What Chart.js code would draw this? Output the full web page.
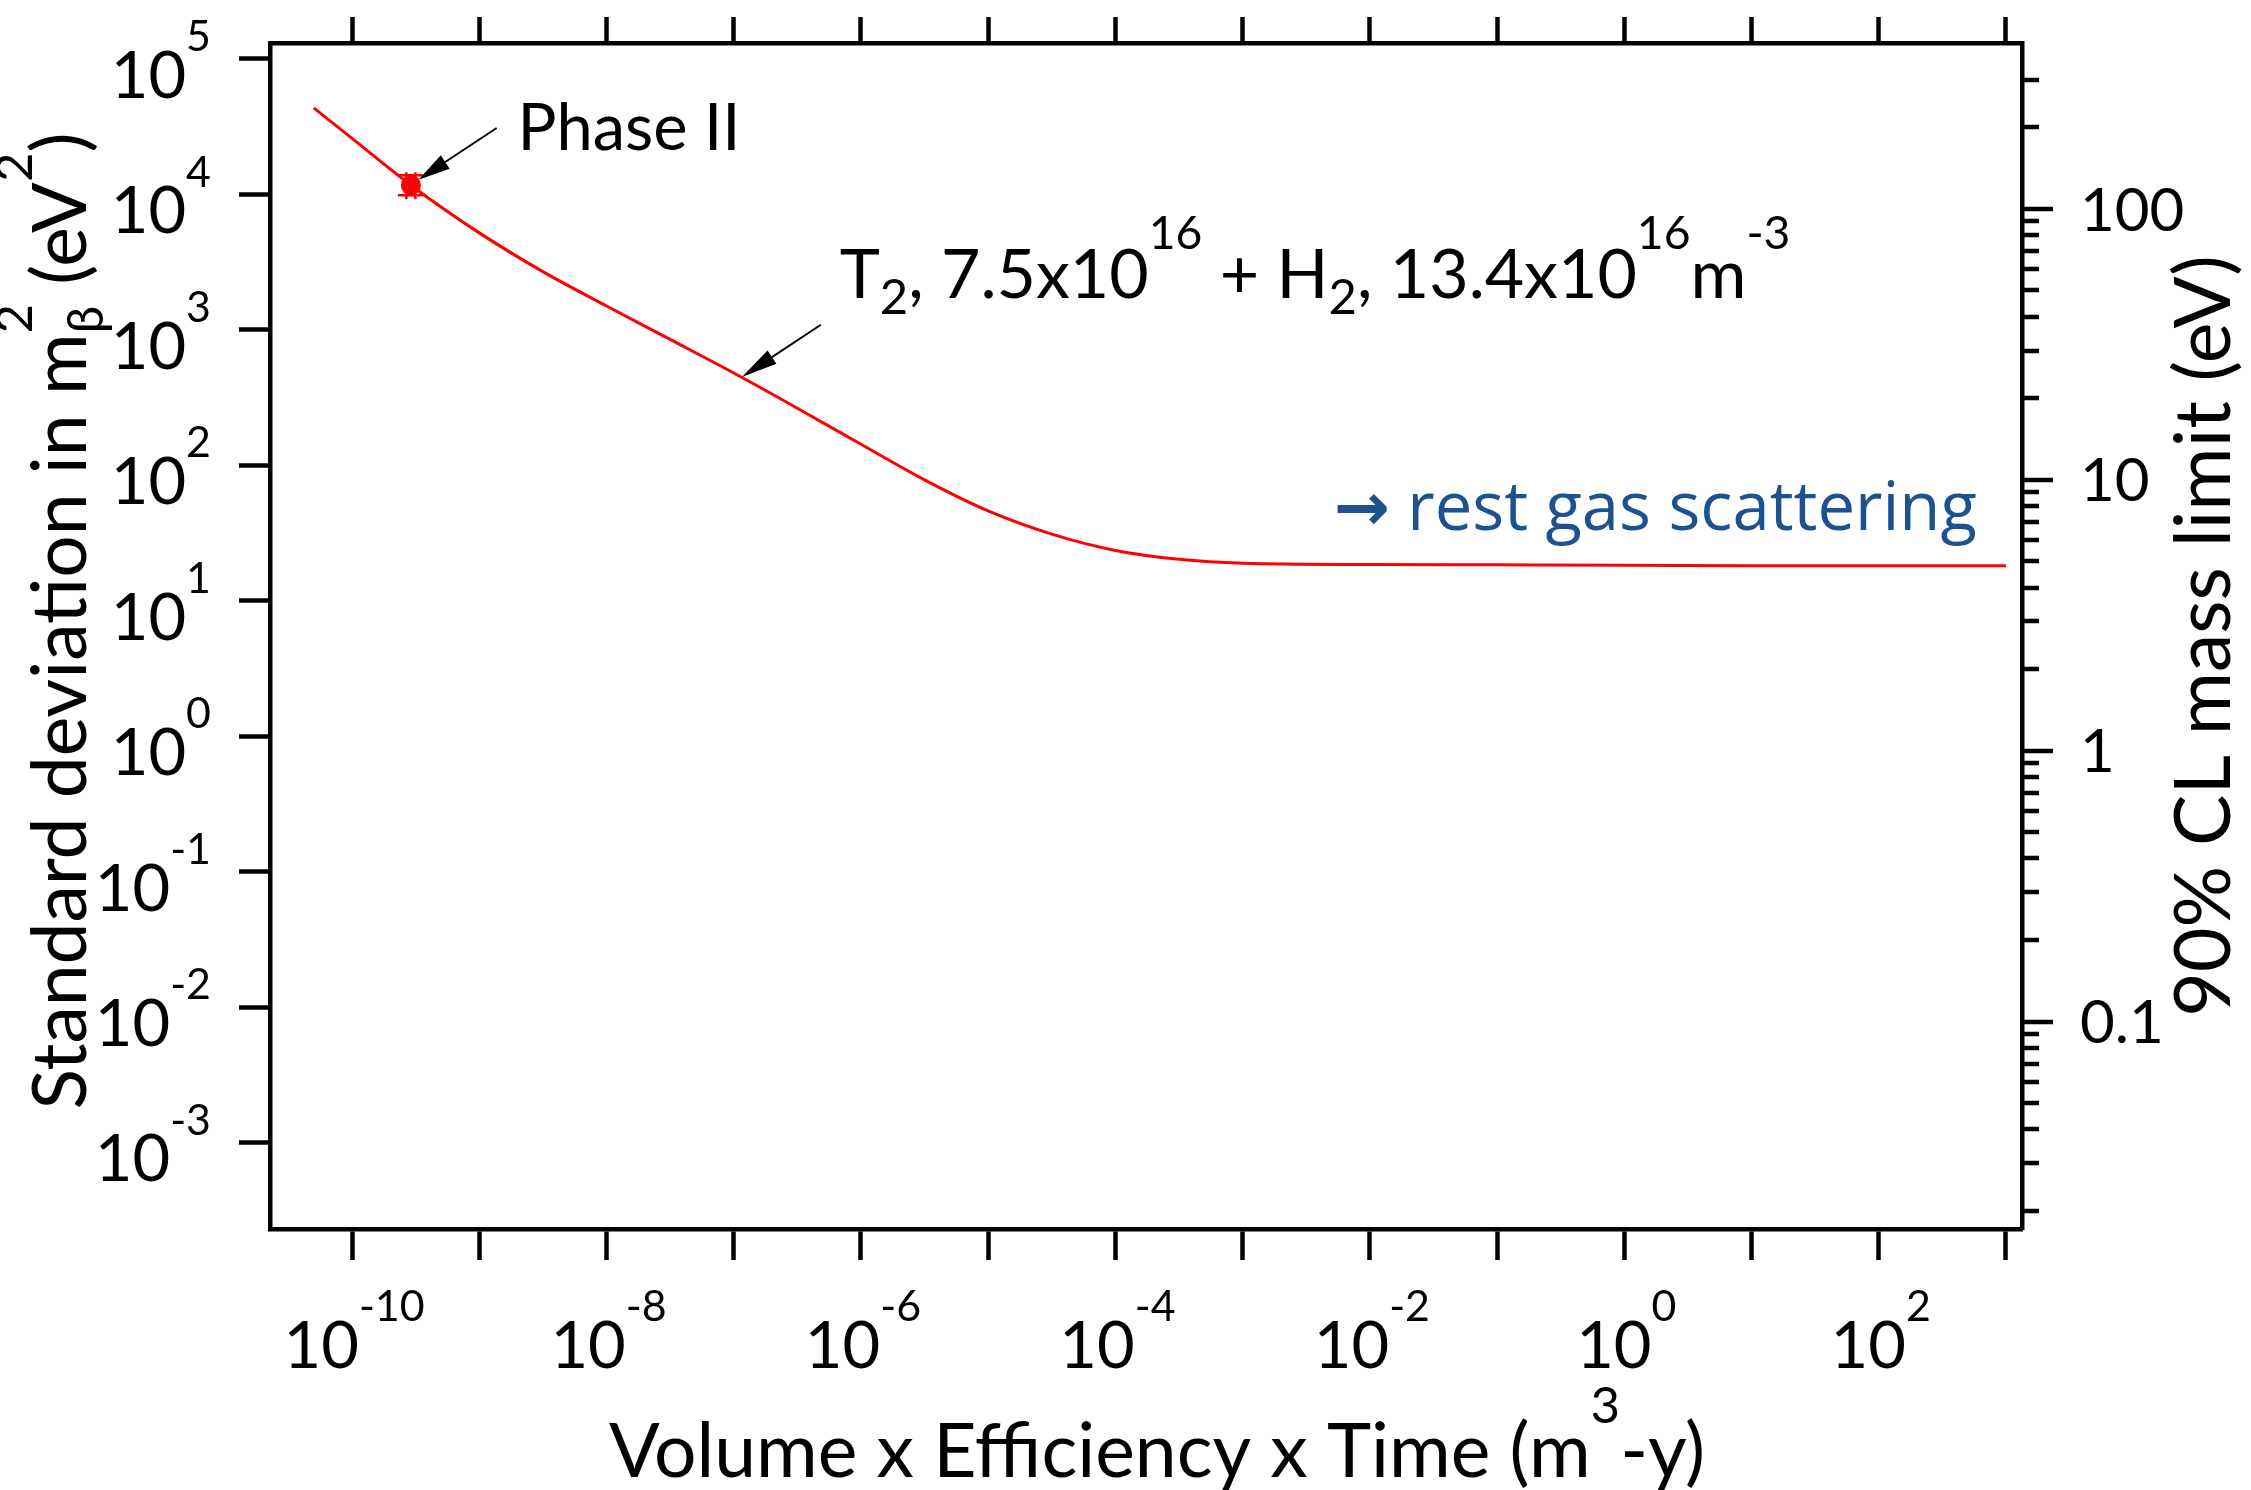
<!DOCTYPE html>
<html><head><meta charset="utf-8">
<script src="https://cdn.jsdelivr.net/npm/chart.js@4/dist/chart.umd.min.js"></script>
<style>html,body{margin:0;padding:0;background:#fff;}canvas{display:block;}</style>
</head><body>
<canvas id="c" width="2251" height="1490"></canvas>
<script>
// ---------------- data ----------------
const volumeEffTime = [5e-11, 1e-10, 2.9e-10, 1e-9, 3.16e-9, 1e-8, 3.16e-8, 1e-7, 3.16e-7, 1e-6, 3.16e-6, 1e-5, 3.16e-5, 1e-4, 3.16e-4, 1e-3, 1e-2, 1e-1, 1, 10, 100, 1000];
const sigmaMbeta2 = [43500, 25900, 11700, 5200, 2690, 1500, 850, 480, 264, 143, 78, 46, 31, 23.5, 20.2, 18.9, 18.5, 18.4, 18.3, 18.15, 18.1, 18.1];
const phaseIIx = [2.9e-10];
const phaseIIy = [11700];

const xTickExponents = [-10, -9, -8, -7, -6, -5, -4, -3, -2, -1, 0, 1, 2, 3];
const xLabelExponents = [-10, -8, -6, -4, -2, 0, 2];
const yTickExponents = [5, 4, 3, 2, 1, 0, -1, -2, -3];
const massMajorTicks = [100, 10, 1, 0.1];
const massMajorLabels = ['100', '10', '1', '0.1'];
const massMinorTicks = [300, 200, 90, 80, 70, 60, 50, 40, 30, 20, 9, 8, 7, 6, 5, 4, 3, 2,
  0.9, 0.8, 0.7, 0.6, 0.5, 0.4, 0.3, 0.2, 0.09, 0.08, 0.07, 0.06, 0.05, 0.04, 0.03, 0.02];
const CL90_FACTOR = 1.28;   // m_limit^2 = 1.28 * sigma

// axis ranges
const X_MIN = Math.pow(10, -10.645), X_MAX = Math.pow(10, 3.126);
const Y_MIN = Math.pow(10, -3.639), Y_MAX = Math.pow(10, 5.118);

// ---------------- helpers ----------------
const FAM = 'Lato, "DejaVu Sans", sans-serif';
const BLUEFAM = '"Open Sans", "Noto Sans", sans-serif';

function layoutRich(ctx, runs, F, fam, o) {
  let x = 0; const pieces = [];
  for (const r of runs) {
    if (r.stack) {
      const sS = F * o.sup, sB = F * o.sub;
      ctx.font = sS + 'px ' + fam; const w1 = ctx.measureText(r.stack[0]).width;
      ctx.font = sB + 'px ' + fam; const w2 = ctx.measureText(r.stack[1]).width;
      pieces.push({t: r.stack[0], s: sS, dx: x, dy: -F * o.rise, f: fam});
      pieces.push({t: r.stack[1], s: sB, dx: x, dy: F * o.drop, f: fam});
      x += Math.max(w1, w2);
    } else {
      const f = r.font || fam;
      const s = r.sup ? F * o.sup : (r.sub ? F * o.sub : F);
      const dy = r.sup ? -F * o.rise : (r.sub ? F * o.drop : 0);
      ctx.font = (r.bold ? 'bold ' : '') + s + 'px ' + f;
      const w = ctx.measureText(r.t).width;
      pieces.push({t: r.t, s: s, dx: x, dy: dy, f: f, b: r.bold});
      x += w;
    }
  }
  return {pieces, width: x};
}
function drawRich(ctx, runs, x, y, align, F, fam, o, color) {
  const L = layoutRich(ctx, runs, F, fam, o);
  const x0 = align === 'center' ? x - L.width / 2 : (align === 'right' ? x - L.width : x);
  ctx.fillStyle = color || '#000';
  ctx.textAlign = 'left';
  ctx.textBaseline = 'alphabetic';
  for (const p of L.pieces) {
    ctx.font = (p.b ? 'bold ' : '') + p.s + 'px ' + p.f;
    ctx.fillText(p.t, x0 + p.dx, y + p.dy);
  }
  return L.width;
}
function drawArrow(ctx, x1, y1, x2, y2, headLen, headHalf, lw) {
  const a = Math.atan2(y2 - y1, x2 - x1);
  const bx = x2 - headLen * Math.cos(a), by = y2 - headLen * Math.sin(a);
  ctx.strokeStyle = '#000'; ctx.fillStyle = '#000'; ctx.lineWidth = lw;
  ctx.beginPath(); ctx.moveTo(x1, y1); ctx.lineTo(bx, by); ctx.stroke();
  ctx.beginPath();
  ctx.moveTo(x2, y2);
  ctx.lineTo(bx + headHalf * Math.sin(a), by - headHalf * Math.cos(a));
  ctx.lineTo(bx - headHalf * Math.sin(a), by + headHalf * Math.cos(a));
  ctx.closePath(); ctx.fill();
}

const TICK_OPT = {sup: 0.66, rise: 0.72, sub: 0.7, drop: 0.22};
const TITLE_OPT = {sup: 0.68, rise: 0.72, sub: 0.66, drop: 0.22};

// annotation anchors (data coordinates)
const ANN = {
  phaseText: {x: 2.0e-9, y: 21400},
  phaseArrowFrom: {x: 1.37e-9, y: 30950},
  phaseArrowTo: {x: 3.33e-10, y: 12850},
  t2Text: {x: 6.8e-7, y: 1728},
  t2ArrowFrom: {x: 4.84e-7, y: 1091},
  t2ArrowTo: {x: 1.16e-7, y: 449},
  restText: {x: 590, y: 33.5}
};

const decorPlugin = {
  id: 'decor',
  afterDraw(chart) {
    const ctx = chart.ctx;
    const xs = chart.scales.x, ys = chart.scales.y, y2 = chart.scales.y2;
    const ca = chart.chartArea;
    const X = v => xs.getPixelForValue(v), Y = v => ys.getPixelForValue(v);
    ctx.save();

    // Phase II marker decoration (error-bar caps)
    const pm = chart.getDatasetMeta(1).data[0];
    if (pm) {
      ctx.strokeStyle = '#ff0000'; ctx.lineWidth = 2.5;
      ctx.beginPath();
      ctx.moveTo(pm.x - 4.5, pm.y - 13); ctx.lineTo(pm.x - 4.5, pm.y + 14);
      ctx.moveTo(pm.x + 4.5, pm.y - 13); ctx.lineTo(pm.x + 4.5, pm.y + 14);
      ctx.moveTo(pm.x - 13, pm.y - 10); ctx.lineTo(pm.x + 12, pm.y - 10);
      ctx.moveTo(pm.x - 13, pm.y + 10); ctx.lineTo(pm.x + 12, pm.y + 10);
      ctx.stroke();
    }

    // left tick labels
    const FL = 65;
    for (const e of yTickExponents) {
      const py = Y(Math.pow(10, e));
      drawRich(ctx, [{t: '10'}, {t: String(e), sup: true}], 211, py + 0.6 * FL, 'right', FL, FAM, TICK_OPT);
    }
    // bottom tick labels
    for (const e of xLabelExponents) {
      const px = X(Math.pow(10, e));
      drawRich(ctx, [{t: '10'}, {t: String(e), sup: true}], px + 2, 1368, 'center', FL, FAM, TICK_OPT);
    }
    // right axis ticks
    ctx.strokeStyle = '#000'; ctx.lineWidth = 4.5;
    ctx.beginPath();
    for (const m of massMajorTicks) {
      const py = Math.round(y2.getPixelForValue(m));
      ctx.moveTo(ca.right, py); ctx.lineTo(ca.right + 31, py);
    }
    for (const m of massMinorTicks) {
      const py = Math.round(y2.getPixelForValue(m));
      if (py < ca.top + 3 || py > ca.bottom - 3) continue;
      ctx.moveTo(ca.right, py); ctx.lineTo(ca.right + 17, py);
    }
    ctx.stroke();
    // right tick labels
    const FR = 60;
    ctx.fillStyle = '#000'; ctx.font = FR + 'px ' + FAM; ctx.textAlign = 'left'; ctx.textBaseline = 'alphabetic';
    massMajorTicks.forEach((m, i) => {
      const py = y2.getPixelForValue(m);
      ctx.fillText(massMajorLabels[i], 2080, py + 0.36 * FR);
    });

    // axis titles
    drawRich(ctx, [{t: 'Volume x Efficiency x Time (m'}, {t: '3', sup: true}, {t: '-y)'}], 1157, 1477, 'center', 75, FAM, TITLE_OPT);
    ctx.save(); ctx.translate(86, 621); ctx.rotate(-Math.PI / 2);
    drawRich(ctx, [{t: 'Standard deviation in m'}, {stack: ['2', 'β']}, {t: ' (eV'}, {t: '2', sup: true}, {t: ')'}], 0, 0, 'center', 75, FAM, TITLE_OPT);
    ctx.restore();
    ctx.save(); ctx.translate(2230, 636); ctx.rotate(-Math.PI / 2);
    drawRich(ctx, [{t: '90% CL mass limit (eV)'}], 0, 0, 'center', 77, FAM, TITLE_OPT);
    ctx.restore();

    // annotations
    drawRich(ctx, [{t: 'Phase II'}], X(ANN.phaseText.x), Y(ANN.phaseText.y), 'left', 65, FAM, TITLE_OPT);
    drawArrow(ctx, X(ANN.phaseArrowFrom.x), Y(ANN.phaseArrowFrom.y), X(ANN.phaseArrowTo.x), Y(ANN.phaseArrowTo.y), 32, 8, 2);
    drawRich(ctx, [{t: 'T'}, {t: '2', sub: true}, {t: ', 7.5x10'}, {t: '16', sup: true}, {t: ' + H'}, {t: '2', sub: true},
      {t: ', 13.4x10'}, {t: '16', sup: true}, {t: 'm'}, {t: '-3', sup: true}],
      X(ANN.t2Text.x), Y(ANN.t2Text.y), 'left', 68, FAM, {sup: 0.68, rise: 0.72, sub: 0.72, drop: 0.24});
    drawArrow(ctx, X(ANN.t2ArrowFrom.x), Y(ANN.t2ArrowFrom.y), X(ANN.t2ArrowTo.x), Y(ANN.t2ArrowTo.y), 36, 8, 2);
    drawRich(ctx, [{t: '→', font: '"DejaVu Sans", sans-serif', bold: true}, {t: ' rest gas scattering'}],
      X(ANN.restText.x), Y(ANN.restText.y), 'right', 67, BLUEFAM, TITLE_OPT, '#1d5190');

    ctx.restore();
  }
};

function decadeTicks(exps) {
  return scale => { scale.ticks = exps.map(e => ({value: Math.pow(10, e)})); };
}

const curve = volumeEffTime.map((x, i) => ({x: x, y: sigmaMbeta2[i]}));
const phaseII = phaseIIx.map((x, i) => ({x: x, y: phaseIIy[i]}));

new Chart(document.getElementById('c').getContext('2d'), {
  type: 'line',
  data: {
    datasets: [
      {label: 'T2 + H2', data: curve, borderColor: '#ff0000', borderWidth: 3, pointRadius: 0,
        cubicInterpolationMode: 'monotone', fill: false},
      {label: 'Phase II', data: phaseII, showLine: false, pointRadius: 10, pointStyle: 'circle',
        backgroundColor: '#ff0000', borderColor: '#ff0000', borderWidth: 0}
    ]
  },
  options: {
    responsive: false, animation: false, devicePixelRatio: 1,
    layout: {padding: {left: 239, top: 17, right: 229, bottom: 230}, autoPadding: false},
    plugins: {legend: {display: false}, tooltip: {enabled: false}, title: {display: false}},
    scales: {
      x: {type: 'logarithmic', position: 'bottom', min: X_MIN, max: X_MAX,
        afterBuildTicks: decadeTicks(xTickExponents), ticks: {display: false},
        grid: {drawOnChartArea: false, drawTicks: true, tickLength: 31, tickWidth: 4.5, tickColor: '#000'},
        border: {display: true, width: 4.5, color: '#000'}},
      x2: {type: 'logarithmic', position: 'top', min: X_MIN, max: X_MAX,
        afterBuildTicks: decadeTicks(xTickExponents), ticks: {display: false},
        grid: {drawOnChartArea: false, drawTicks: true, tickLength: 26, tickWidth: 4.5, tickColor: '#000'},
        border: {display: true, width: 4.5, color: '#000'}},
      y: {type: 'logarithmic', position: 'left', min: Y_MIN, max: Y_MAX,
        afterBuildTicks: decadeTicks(yTickExponents), ticks: {display: false},
        grid: {drawOnChartArea: false, drawTicks: true, tickLength: 31, tickWidth: 4.5, tickColor: '#000'},
        border: {display: true, width: 4.5, color: '#000'}},
      y2: {type: 'logarithmic', position: 'right',
        min: Math.sqrt(CL90_FACTOR * Y_MIN), max: Math.sqrt(CL90_FACTOR * Y_MAX),
        ticks: {display: false},
        grid: {drawOnChartArea: false, drawTicks: false},
        border: {display: true, width: 4.5, color: '#000'}}
    }
  },
  plugins: [decorPlugin]
});
</script>
</body></html>
